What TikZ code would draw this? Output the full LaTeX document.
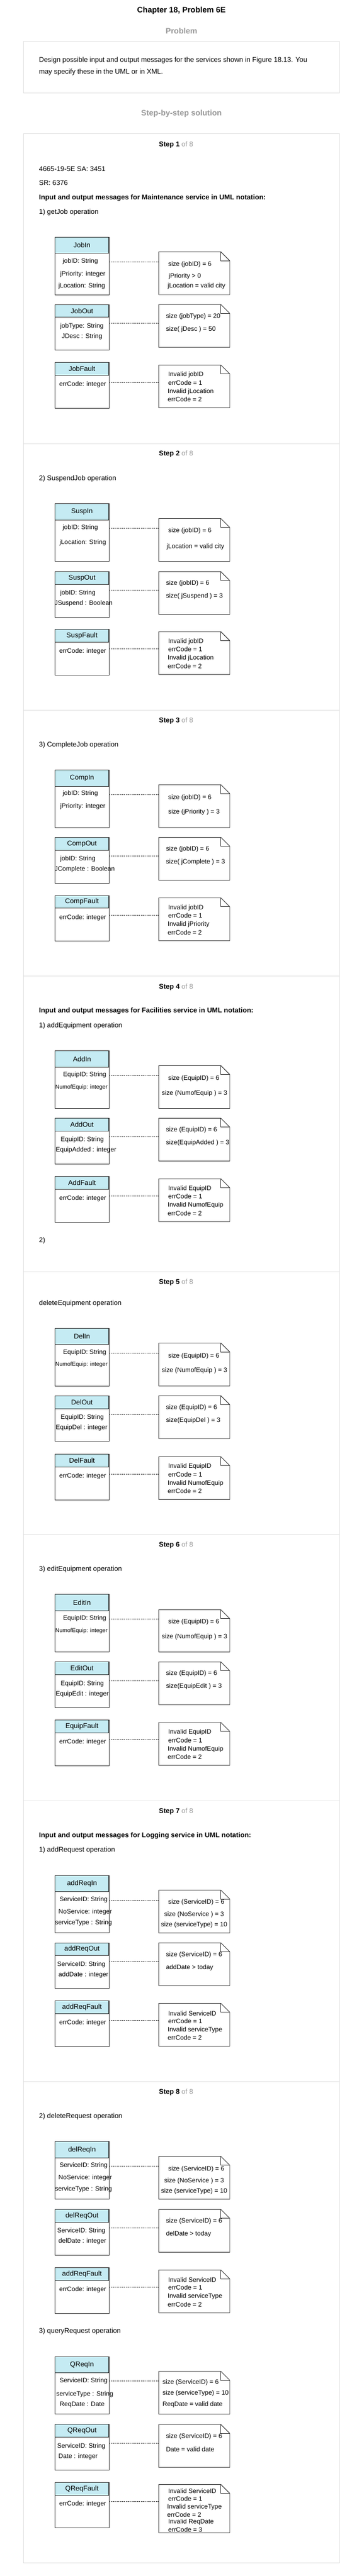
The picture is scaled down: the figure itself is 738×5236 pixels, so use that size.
\documentclass[tikz,border=0pt]{standalone}
\usepackage{fontspec}
\setmainfont{Liberation Sans}
\usepackage{xcolor}
\definecolor{hdrcol}{HTML}{C5EBF3}
\definecolor{framec}{HTML}{DDDDDD}
\definecolor{grayt}{HTML}{999999}
\newcommand\bodyf{\fontsize{14}{17}\selectfont}
\newcommand\umlf{\fontsize{13}{15}\selectfont}
\newcommand\umlsmall{\fontsize{11.5}{13}\selectfont}
\newcommand\hdrf{\fontsize{14}{16}\selectfont}
\newcount\tnum
\newcommand\tnode[4]{\global\advance\tnum by 1\relax\node[#1] (txt\the\tnum) at (#2,#3) {#4};}
\newcommand\umlclass[5]{%
 \node[clsbox, minimum height={((#3)-(#2))*1pt}] (#1) at (111.5,#2) {};
 \node[hdr, minimum height={((#4)-(#2))*1pt}] (#1h) at (111.5,#2) {#5};
 \draw[line width=1.8pt, black!85] (#1h.north east) -- (#1h.south east);
}
\newcommand\umlnote[3]{%
 \node[notebox, minimum height={((#3)-(#2))*1pt}] (#1) at (322,#2) {};
 \draw[noteline] (#1.north west) -- ([xshift=-18pt]#1.north east) -- ([yshift=-18pt]#1.north east) -- (#1.south east) -- (#1.south west) -- cycle;
 \draw[noteline] ([xshift=-18pt]#1.north east) |- ([yshift=-18pt]#1.north east);
}
\newcommand\umllink[3]{\draw[umllinkst] (#1.east |- 0,#3) -- (#2.west |- 0,#3);}
\newcommand\faultgrp[7]{%
 \umlclass{#1}{#2}{#2+93}{#2+26}{#3}
 \tnode{attr}{120}{#2+45}{errCode: integer}
 \umlnote{#1N}{#2+5}{#2+92}
 \umllink{#1}{#1N}{#2+40}
 \tnode{ntext}{341}{#2+25}{#4}
 \tnode{ntext}{341}{#2+41}{#5}
 \tnode{ntext}{340}{#2+59}{#6}
 \tnode{ntext}{340}{#2+75}{#7}
}
\newcommand\outgrp[9]{%
 \umlclass{#1}{#2}{#2+93}{#2+26}{#3}
 \tnode{attr}{#4}{#2+44}{#5}
 \tnode{attr}{#6}{#2+65}{#7}
 \umlnote{#1N}{#2}{#2+87}
 \umllink{#1}{#1N}{#2+38}
 \tnode{ntext}{336.5}{#2+24}{#8}
 \tnode{ntext}{336.5}{#2+50}{#9}
}
\begin{document}
\begin{tikzpicture}[x=1pt,y=-1pt,
 clsbox/.style={draw=black!85, fill=white, line width=1pt, minimum width=109.5pt, inner sep=0pt, outer sep=0pt, anchor=north west},
 hdr/.style={draw=black!85, fill=hdrcol, line width=1pt, minimum width=109.5pt, inner sep=0pt, outer sep=0pt, anchor=north west, font=\hdrf},
 notebox/.style={minimum width=144pt, inner sep=0pt, outer sep=0pt, anchor=north west},
 noteline/.style={draw=black!85, line width=1pt, line join=miter},
 umllinkst/.style={draw=black!85, line width=1pt, dash pattern=on 2.4pt off 1.4pt},
 attr/.style={anchor=west, inner sep=0pt, font=\umlf},
 attrs/.style={anchor=west, inner sep=0pt, font=\umlsmall},
 ntext/.style={anchor=west, inner sep=0pt, font=\umlf},
 body/.style={anchor=west, inner sep=0pt, font=\bodyf},
 bodyb/.style={anchor=west, inner sep=0pt, font=\bodyf\bfseries},
 stephd/.style={inner sep=0pt, font=\bodyf},
 panel/.style={draw=framec, line width=1pt, inner sep=0pt, outer sep=0pt, anchor=north west, minimum width=640pt},
 sepline/.style={draw=framec, line width=1pt}
]
\useasboundingbox (0,0) rectangle (738,5236);
\fill[white] (0,0) rectangle (738,5236);

% header area
\tnode{font=\fontsize{16}{19}\selectfont\bfseries, inner sep=0pt}{368}{22}{Chapter 18, Problem 6E}
\tnode{font=\fontsize{16}{19}\selectfont\bfseries, text=grayt, inner sep=0pt}{368}{63}{Problem}
\node[panel, minimum height=105pt] (pbox) at (48,84) {};
\tnode{body}{79}{123}{Design possible input and output messages for the services shown in Figure 18.13. You}
\tnode{body}{79}{147}{may specify these in the UML or in XML.}
\tnode{font=\fontsize{16}{19}\selectfont\bfseries, text=grayt, inner sep=0pt}{368}{231}{Step-by-step solution}

\node[panel, minimum height=4937pt] (sbox) at (48,272) {};
\foreach \sy in {902,1443,1984,2585,3119,3660,4231}{
 \draw[sepline] (sbox.west |- 0,\sy) -- (sbox.east |- 0,\sy);
}

% ---------- Step 1
\tnode{stephd}{357}{294}{\textbf{Step 1} \textcolor{grayt}{of 8}}
\tnode{body}{79}{343}{4665-19-5E SA: 3451}
\tnode{body}{79}{372}{SR: 6376}
\tnode{bodyb}{79}{402}{Input and output messages for Maintenance service in UML notation:}
\tnode{body}{79}{431}{1) getJob operation}

\umlclass{JobIn}{482}{599}{515}{JobIn}
\tnode{attr}{127}{531}{jobID: String}
\tnode{attr}{122}{557}{jPriority: integer}
\tnode{attr}{118.5}{581}{jLocation: String}
\umlnote{JobInN}{512}{599}
\umllink{JobIn}{JobInN}{532}
\tnode{ntext}{341}{538}{size (jobID) = 6}
\tnode{ntext}{342}{562}{jPriority > 0}
\tnode{ntext}{340}{582}{jLocation = valid city}

\outgrp{JobOut}{619}{JobOut}{122}{jobType: String}{125}{JDesc : String}{size (jobType) = 20}{size( jDesc ) = 50}
\faultgrp{JobFault}{737}{JobFault}{Invalid jobID}{errCode = 1}{Invalid jLocation}{errCode = 2}

% ---------- Step 2
\tnode{stephd}{357}{923}{\textbf{Step 2} \textcolor{grayt}{of 8}}
\tnode{body}{79}{973}{2) SuspendJob operation}
\umlclass{SuspIn}{1024}{1141}{1057}{SuspIn}
\tnode{attr}{127}{1073}{jobID: String}
\tnode{attr}{120.5}{1103}{jLocation: String}
\umlnote{SuspInN}{1054}{1141}
\umllink{SuspIn}{SuspInN}{1074}
\tnode{ntext}{341}{1079}{size (jobID) = 6}
\tnode{ntext}{338}{1111}{jLocation = valid city}
\outgrp{SuspOut}{1162}{SuspOut}{122}{jobID: String}{110.6}{JSuspend : Boolean}{size (jobID) = 6}{size( jSuspend ) = 3}
\faultgrp{SuspFault}{1279}{SuspFault}{Invalid jobID}{errCode = 1}{Invalid jLocation}{errCode = 2}

% ---------- Step 3
\tnode{stephd}{357}{1465}{\textbf{Step 3} \textcolor{grayt}{of 8}}
\tnode{body}{79}{1514}{3) CompleteJob operation}
\umlclass{CompIn}{1565}{1682}{1598}{CompIn}
\tnode{attr}{127}{1613}{jobID: String}
\tnode{attr}{122}{1639}{jPriority: integer}
\umlnote{CompInN}{1595}{1682}
\umllink{CompIn}{CompInN}{1615}
\tnode{ntext}{341}{1621}{size (jobID) = 6}
\tnode{ntext}{341}{1651}{size (jPriority ) = 3}
\outgrp{CompOut}{1702}{CompOut}{122}{jobID: String}{110.6}{JComplete : Boolean}{size (jobID) = 6}{size( jComplete ) = 3}
\faultgrp{CompFault}{1820}{CompFault}{Invalid jobID}{errCode = 1}{Invalid jPriority}{errCode = 2}

% ---------- Step 4
\tnode{stephd}{357}{2006}{\textbf{Step 4} \textcolor{grayt}{of 8}}
\tnode{bodyb}{79}{2055}{Input and output messages for Facilities service in UML notation:}
\tnode{body}{79}{2085}{1) addEquipment operation}
\umlclass{AddIn}{2136}{2253}{2169}{AddIn}
\tnode{attr}{128}{2185}{EquipID: String}
\tnode{attrs}{112}{2210}{NumofEquip: integer}
\umlnote{AddInN}{2166}{2253}
\umllink{AddIn}{AddInN}{2186}
\tnode{ntext}{341}{2192}{size (EquipID) = 6}
\tnode{ntext}{328}{2222}{size (NumofEquip ) = 3}
\outgrp{AddOut}{2273}{AddOut}{123}{EquipID: String}{113}{EquipAdded : integer}{size (EquipID) = 6}{size(EquipAdded ) = 3}
\faultgrp{AddFault}{2391}{AddFault}{Invalid EquipID}{errCode = 1}{Invalid NumofEquip}{errCode = 2}
\tnode{body}{79}{2522}{2)}

% ---------- Step 5
\tnode{stephd}{357}{2606}{\textbf{Step 5} \textcolor{grayt}{of 8}}
\tnode{body}{79}{2649}{deleteEquipment operation}
\umlclass{DelIn}{2700}{2817}{2733}{DelIn}
\tnode{attr}{128}{2749}{EquipID: String}
\tnode{attrs}{112}{2774}{NumofEquip: integer}
\umlnote{DelInN}{2730}{2817}
\umllink{DelIn}{DelInN}{2750}
\tnode{ntext}{341}{2756}{size (EquipID) = 6}
\tnode{ntext}{328}{2786}{size (NumofEquip ) = 3}
\outgrp{DelOut}{2837}{DelOut}{123}{EquipID: String}{113}{EquipDel : integer}{size (EquipID) = 6}{size(EquipDel ) = 3}
\faultgrp{DelFault}{2956}{DelFault}{Invalid EquipID}{errCode = 1}{Invalid NumofEquip}{errCode = 2}

% ---------- Step 6
\tnode{stephd}{357}{3141}{\textbf{Step 6} \textcolor{grayt}{of 8}}
\tnode{body}{79}{3190}{3) editEquipment operation}
\umlclass{EditIn}{3241}{3358}{3274}{EditIn}
\tnode{attr}{128}{3290}{EquipID: String}
\tnode{attrs}{112}{3315}{NumofEquip: integer}
\umlnote{EditInN}{3272}{3358}
\umllink{EditIn}{EditInN}{3291}
\tnode{ntext}{341}{3297}{size (EquipID) = 6}
\tnode{ntext}{328}{3327}{size (NumofEquip ) = 3}
\outgrp{EditOut}{3378}{EditOut}{123}{EquipID: String}{113}{EquipEdit : integer}{size (EquipID) = 6}{size(EquipEdit ) = 3}
\faultgrp{EquipFault}{3496}{EquipFault}{Invalid EquipID}{errCode = 1}{Invalid NumofEquip}{errCode = 2}

% ---------- Step 7
\tnode{stephd}{357}{3682}{\textbf{Step 7} \textcolor{grayt}{of 8}}
\tnode{bodyb}{79}{3731}{Input and output messages for Logging service in UML notation:}
\tnode{body}{79}{3761}{1) addRequest operation}
\umlclass{addReqIn}{3812}{3929}{3845}{addReqIn}
\tnode{attr}{120.5}{3861}{ServiceID: String}
\tnode{attr}{118.6}{3886}{NoService: integer}
\tnode{attr}{111.5}{3908}{serviceType : String}
\umlnote{addReqInN}{3842}{3929}
\umllink{addReqIn}{addReqInN}{3862}
\tnode{ntext}{341}{3867}{size (ServiceID) = 6}
\tnode{ntext}{333}{3892}{size (NoService ) = 3}
\tnode{ntext}{326.5}{3913}{size (serviceType) = 10}
\outgrp{addReqOut}{3949}{addReqOut}{116}{ServiceID: String}{118.6}{addDate : integer}{size (ServiceID) = 6}{addDate > today}
\faultgrp{addReqFault}{4067}{addReqFault}{Invalid ServiceID}{errCode = 1}{Invalid serviceType}{errCode = 2}

% ---------- Step 8
\tnode{stephd}{357}{4253}{\textbf{Step 8} \textcolor{grayt}{of 8}}
\tnode{body}{79}{4302}{2) deleteRequest operation}
\umlclass{delReqIn}{4353}{4470}{4386}{delReqIn}
\tnode{attr}{120.5}{4402}{ServiceID: String}
\tnode{attr}{118.6}{4427}{NoService: integer}
\tnode{attr}{111.5}{4450}{serviceType : String}
\umlnote{delReqInN}{4383}{4470}
\umllink{delReqIn}{delReqInN}{4403}
\tnode{ntext}{341}{4409}{size (ServiceID) = 6}
\tnode{ntext}{333}{4433}{size (NoService ) = 3}
\tnode{ntext}{326.5}{4454}{size (serviceType) = 10}
\outgrp{delReqOut}{4491}{delReqOut}{116}{ServiceID: String}{118.6}{delDate : integer}{size (ServiceID) = 6}{delDate > today}
\faultgrp{addReqFaultB}{4609}{addReqFault}{Invalid ServiceID}{errCode = 1}{Invalid serviceType}{errCode = 2}

\tnode{body}{79}{4739}{3) queryRequest operation}
\umlclass{QReqIn}{4790}{4907}{4823}{QReqIn}
\tnode{attr}{120.5}{4839}{ServiceID: String}
\tnode{attr}{114}{4867}{serviceType : String}
\tnode{attr}{121}{4888}{ReqDate : Date}
\umlnote{QReqInN}{4820}{4907}
\umllink{QReqIn}{QReqInN}{4840}
\tnode{ntext}{329.5}{4842}{size (ServiceID) = 6}
\tnode{ntext}{329.5}{4864}{size (serviceType) = 10}
\tnode{ntext}{329.5}{4888}{ReqDate = valid date}
\outgrp{QReqOut}{4928}{QReqOut}{116}{ServiceID: String}{118.6}{Date : integer}{size (ServiceID) = 6}{Date = valid date}
\umlclass{QReqFault}{5046}{5138}{5072}{QReqFault}
\tnode{attr}{120}{5090}{errCode: integer}
\umlnote{QReqFaultN}{5050}{5148}
\umllink{QReqFault}{QReqFaultN}{5085}
\tnode{ntext}{341}{5063}{Invalid ServiceID}
\tnode{ntext}{341}{5079}{errCode = 1}
\tnode{ntext}{339}{5096}{Invalid serviceType}
\tnode{ntext}{339}{5111}{errCode = 2}
\tnode{ntext}{341}{5126}{Invalid ReqDate}
\tnode{ntext}{341}{5142}{errCode = 3}
\end{tikzpicture}
\end{document}
